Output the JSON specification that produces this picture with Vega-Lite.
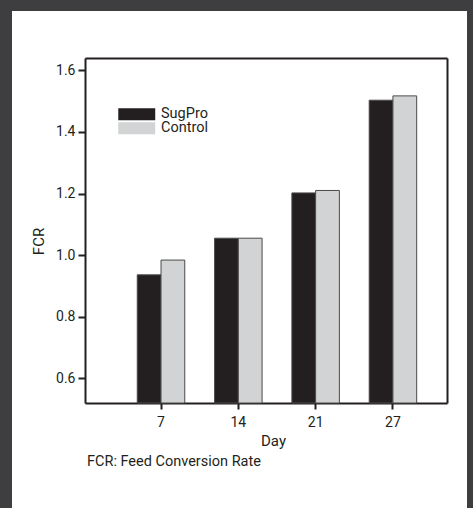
{
  "$schema": "https://vega.github.io/schema/vega-lite/v6.json",
  "width": 455,
  "height": 497,
  "autosize": {"type": "none"},
  "padding": {"left": 12, "top": 11, "right": 6, "bottom": 0},
  "background": "#3e3e40",
  "title": {
    "text": "FCR: Feed Conversion Rate",
    "orient": "bottom",
    "anchor": "start",
    "baseline": "top",
    "offset": -53,
    "dx": 75,
    "fontSize": 14.5,
    "fontWeight": "normal",
    "font": "Roboto",
    "color": "#231f20"
  },
  "data": {
    "values": [
      {"Day": 7, "Group": "SugPro", "FCR": 0.936},
      {"Day": 7, "Group": "Control", "FCR": 0.984},
      {"Day": 14, "Group": "SugPro", "FCR": 1.055},
      {"Day": 14, "Group": "Control", "FCR": 1.055},
      {"Day": 21, "Group": "SugPro", "FCR": 1.202},
      {"Day": 21, "Group": "Control", "FCR": 1.21},
      {"Day": 27, "Group": "SugPro", "FCR": 1.503},
      {"Day": 27, "Group": "Control", "FCR": 1.517}
    ]
  },
  "resolve": {"axis": {"x": "independent", "y": "independent"}},
  "layer": [
    {
      "mark": {"type": "bar", "stroke": "#4a4a4a", "strokeWidth": 1},
      "encoding": {
        "x": {
          "field": "Day",
          "type": "ordinal",
          "scale": {"range": [73, 435], "paddingInner": 0.3855, "paddingOuter": 0.534, "align": 0.633},
          "axis": {
            "orient": "bottom",
            "offset": -105,
            "labelAngle": 0,
            "tickSize": 6,
            "tickWidth": 2,
            "domainWidth": 2,
            "labelPadding": 6,
            "title": "Day",
            "titleX": 261,
            "titlePadding": 4
          }
        },
        "xOffset": {"field": "Group", "sort": ["SugPro", "Control"]},
        "y": {
          "field": "FCR",
          "type": "quantitative",
          "scale": {"domain": [0.52, 1.64], "range": [392, 47], "nice": false, "zero": false},
          "axis": {
            "orient": "left",
            "offset": -73,
            "values": [0.6, 0.8, 1.0, 1.2, 1.4, 1.6],
            "format": ".1f",
            "grid": false,
            "tickSize": 7,
            "tickWidth": 2,
            "domainWidth": 2,
            "labelPadding": 3,
            "title": "FCR",
            "titleY": 230,
            "titlePadding": 9
          }
        },
        "y2": {"datum": 0.52},
        "color": {
          "field": "Group",
          "type": "nominal",
          "scale": {"domain": ["SugPro", "Control"], "range": ["#231f20", "#d1d3d4"]},
          "legend": {
            "title": null,
            "orient": "none",
            "legendX": 117.5,
            "legendY": 96,
            "symbolType": "M-3.08,-1H3.08V1H-3.08Z",
            "symbolSize": 144,
            "symbolStrokeWidth": 0,
            "symbolOpacity": 1,
            "labelOffset": 17,
            "labelFontSize": 14.5,
            "labelFont": "Roboto",
            "labelColor": "#231f20",
            "rowPadding": -2
          }
        }
      }
    },
    {
      "mark": {"type": "bar", "opacity": 0},
      "encoding": {
        "x": {
          "field": "Day",
          "type": "ordinal",
          "axis": {"orient": "top", "offset": -47, "labels": false, "ticks": false, "domainWidth": 2, "title": null}
        },
        "y": {
          "field": "FCR",
          "type": "quantitative",
          "axis": {"orient": "right", "offset": -20, "labels": false, "ticks": false, "grid": false, "domainWidth": 2, "title": null}
        },
        "y2": {"datum": 0.52}
      }
    }
  ],
  "config": {
    "view": {"fill": "white", "stroke": null},
    "axis": {
      "domainColor": "#231f20",
      "tickColor": "#231f20",
      "labelColor": "#231f20",
      "titleColor": "#231f20",
      "labelFont": "Roboto",
      "titleFont": "Roboto",
      "labelFontSize": 14,
      "titleFontSize": 15,
      "titleFontWeight": "normal"
    }
  }
}
